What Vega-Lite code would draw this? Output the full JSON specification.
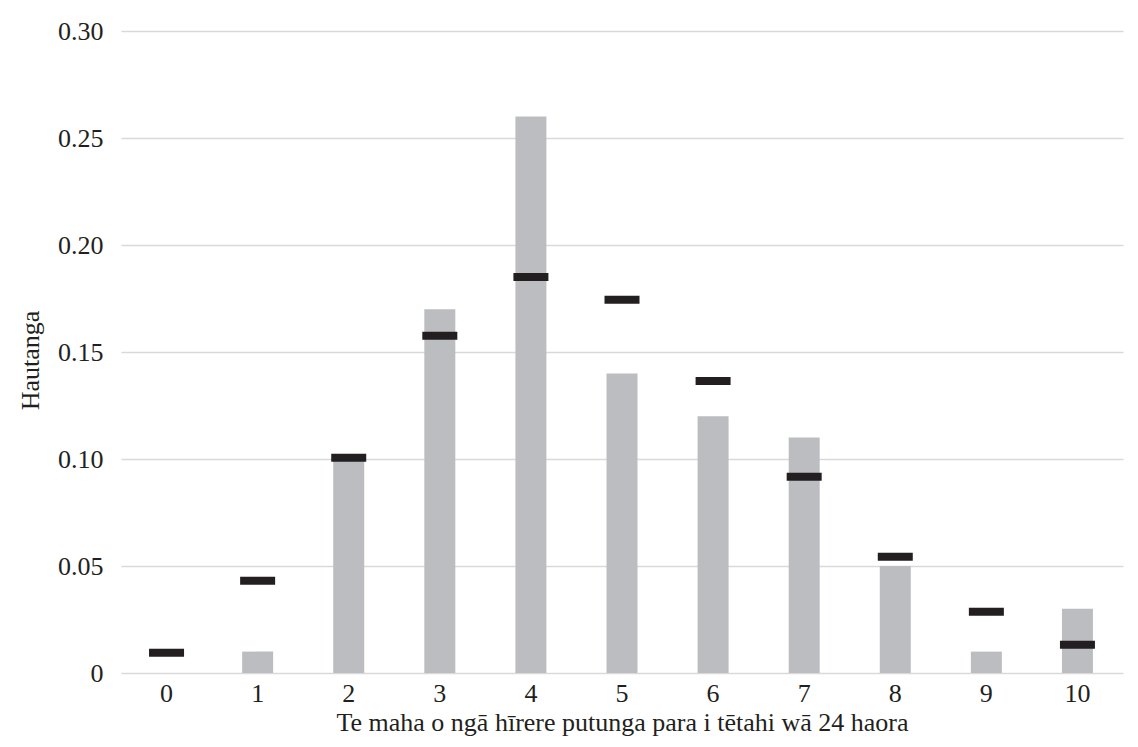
{
  "$schema": "https://vega.github.io/schema/vega-lite/v6.json",
  "autosize": {"type": "none"},
  "width": 1002,
  "height": 642,
  "padding": {"left": 121, "top": 31, "right": 15, "bottom": 74},
  "background": "#ffffff",
  "config": {
    "view": {"stroke": null},
    "font": "Liberation Serif",
    "axis": {
      "labelFont": "Liberation Serif",
      "titleFont": "Liberation Serif",
      "labelColor": "#231f20",
      "titleColor": "#231f20",
      "labelFontSize": 26,
      "titleFontSize": 26,
      "titleFontWeight": "normal",
      "ticks": false,
      "domain": false
    }
  },
  "data": {
    "values": [
      {"k": 0, "observed": 0.0, "expected": 0.0095},
      {"k": 1, "observed": 0.01, "expected": 0.0431},
      {"k": 2, "observed": 0.10, "expected": 0.1006},
      {"k": 3, "observed": 0.17, "expected": 0.1576},
      {"k": 4, "observed": 0.26, "expected": 0.1851},
      {"k": 5, "observed": 0.14, "expected": 0.1744},
      {"k": 6, "observed": 0.12, "expected": 0.1365},
      {"k": 7, "observed": 0.11, "expected": 0.0917},
      {"k": 8, "observed": 0.05, "expected": 0.0543},
      {"k": 9, "observed": 0.01, "expected": 0.0286},
      {"k": 10, "observed": 0.03, "expected": 0.0132}
    ]
  },
  "encoding": {
    "x": {
      "field": "k",
      "type": "ordinal",
      "sort": null,
      "scale": {"paddingInner": 0, "paddingOuter": 0},
      "axis": {
        "title": "Te maha o ngā hīrere putunga para i tētahi wā 24 haora",
        "labelAngle": 0,
        "labelPadding": 7,
        "titlePadding": 3,
        "grid": false
      }
    }
  },
  "layer": [
    {
      "mark": {"type": "bar", "width": 31, "color": "#bcbdc1"},
      "encoding": {
        "y": {
          "field": "observed",
          "type": "quantitative",
          "scale": {"domain": [0, 0.3], "nice": false},
          "axis": {
            "title": "Hautanga",
            "values": [0, 0.05, 0.1, 0.15, 0.2, 0.25, 0.3],
            "labelExpr": "datum.value === 0 ? '0' : format(datum.value, '.2f')",
            "labelPadding": 18,
            "grid": true,
            "gridColor": "#d9d9d9",
            "gridWidth": 1.5,
            "titleX": -91,
            "titleY": 329,
            "titleBaseline": "middle",
            "titleAlign": "center"
          }
        }
      }
    },
    {
      "mark": {"type": "tick", "color": "#231f20", "size": 35, "thickness": 8, "opacity": 1},
      "encoding": {
        "y": {"field": "expected", "type": "quantitative"}
      }
    }
  ]
}
